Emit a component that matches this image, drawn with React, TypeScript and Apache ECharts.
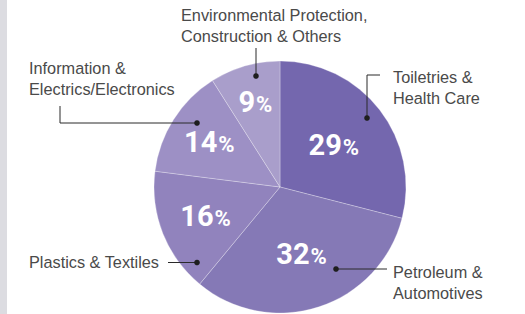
import React, { useEffect, useRef } from "react";
import * as echarts from "echarts";

const categories = [
  "Toiletries & Health Care",
  "Petroleum & Automotives",
  "Plastics & Textiles",
  "Information & Electrics/Electronics",
  "Environmental Protection, Construction & Others",
];
const shares = [29, 32, 16, 14, 9];
const sliceColors = ["#7467ae", "#8579b6", "#9183bd", "#9d90c5", "#a99ecb"];

// layout of the chart (not data)
const CX = 280;
const CY = 187;
const R = 126;
const labelRadiusFrac = [0.54, 0.555, 0.635, 0.665, 0.7];

type Callout = { lines: string[]; tx: number; ty: number; pts: number[][] };
const callouts: Callout[] = [
  { lines: ["Toiletries &", "Health Care"], tx: 393, ty: 77, pts: [[380, 75], [367, 75], [367, 118]] },
  { lines: ["Petroleum &", "Automotives"], tx: 393, ty: 272, pts: [[387, 269], [336, 269]] },
  { lines: ["Plastics & Textiles"], tx: 29, ty: 262, pts: [[168, 262.5], [197, 262.5]] },
  { lines: ["Information &", "Electrics/Electronics"], tx: 29, ty: 68, pts: [[60, 106], [60, 123], [197, 123]] },
  { lines: ["Environmental Protection,", "Construction & Others"], tx: 181, ty: 15, pts: [[256, 48], [256, 76]] },
];

export default function App() {
  const ref = useRef<HTMLDivElement>(null);
  useEffect(() => {
    if (!ref.current) return;
    const chart = echarts.init(ref.current, null, { renderer: "svg" });
    const total = shares.reduce((a, b) => a + b, 0);
    const midAngles: number[] = [];
    let acc = 0;
    shares.forEach((v) => {
      midAngles.push(((acc + v / 2) / total) * 2 * Math.PI);
      acc += v;
    });

    const graphics: any[] = [
      { type: "rect", left: 0, top: 0, shape: { x: 0, y: 0, width: 7, height: 314 }, style: { fill: "#dcdce1" }, z: -1 },
    ];
    callouts.forEach((c) => {
      c.lines.forEach((ln, i) => {
        graphics.push({
          type: "text",
          x: c.tx,
          y: c.ty + i * 20.5,
          style: {
            text: ln,
            fill: "#4a4a4a",
            font: "16.3px 'Liberation Sans', Arial, sans-serif",
            textAlign: "left",
            textVerticalAlign: "middle",
          },
          z: 10,
        });
      });
      graphics.push({
        type: "polyline",
        shape: { points: c.pts },
        style: { stroke: "#2a2a2a", lineWidth: 1, fill: null },
        z: 10,
      });
      const end = c.pts[c.pts.length - 1];
      graphics.push({
        type: "circle",
        shape: { cx: end[0], cy: end[1], r: 2.8 },
        style: { fill: "#1e1e1e" },
        z: 11,
      });
    });

    chart.setOption({
      animation: false,
      backgroundColor: "#ffffff",
      graphic: graphics,
      series: [
        {
          type: "pie",
          center: [CX, CY],
          radius: R,
          startAngle: 90,
          clockwise: true,
          silent: true,
          data: categories.map((name, i) => ({
            name,
            value: shares[i],
            itemStyle: { color: sliceColors[i] },
          })),
          itemStyle: { borderColor: "rgba(255,255,255,0.35)", borderWidth: 0.8 },
          label: {
            show: true,
            position: "inside",
            formatter: (p: any) => `{n|${p.value}}{p|%}`,
            rich: {
              n: { fontFamily: "Roboto", fontWeight: "bold", fontSize: 29, color: "#ffffff", lineHeight: 32 },
              p: { fontFamily: "Roboto", fontWeight: "bold", fontSize: 22, color: "#ffffff", lineHeight: 32, padding: [5, 0, 0, 1] },
            },
          },
          labelLine: { show: false },
          labelLayout: (params: any) => {
            const i = params.dataIndex;
            const a = midAngles[i];
            const r = R * labelRadiusFrac[i];
            return {
              x: CX + r * Math.sin(a),
              y: CY - r * Math.cos(a),
              align: "center",
              verticalAlign: "middle",
            };
          },
        },
      ],
    });
    return () => chart.dispose();
  }, []);
  return (
    <div
      ref={ref}
      style={{ position: "fixed", left: 0, top: 0, width: 525, height: 314 }}
    />
  );
}
